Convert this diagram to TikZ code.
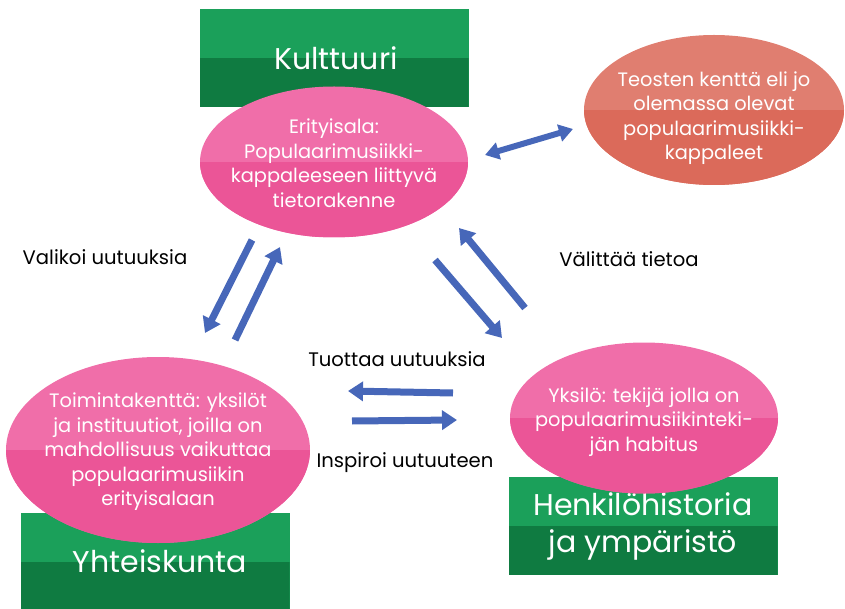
\documentclass[tikz,border=0pt]{standalone}
\usepackage{fontspec}
\setmainfont{Poppins}
\usetikzlibrary{arrows.meta,shapes.geometric}
\definecolor{pinkT}{HTML}{F06EA9}
\definecolor{pinkB}{HTML}{EB5597}
\definecolor{greenT}{HTML}{1BA05A}
\definecolor{greenB}{HTML}{0F7B41}
\definecolor{orangeT}{HTML}{E07E70}
\definecolor{orangeB}{HTML}{DB6A5A}
\definecolor{arrowblue}{HTML}{4767B9}
\tikzset{
  greenbox/.style={rectangle, minimum width=269, minimum height=98, inner sep=0,
    fill=greenT, text=white, align=center, font=\fontsize{30}{37}\selectfont,
    path picture={\fill[greenB] (path picture bounding box.west) rectangle (path picture bounding box.south east);}},
  pinkell/.style={ellipse, inner sep=0, fill=pinkT,
    path picture={\fill[pinkB] (path picture bounding box.west) rectangle (path picture bounding box.south east);}},
  orangeell/.style={ellipse, inner sep=0, fill=orangeT,
    path picture={\fill[orangeB] (path picture bounding box.west) rectangle (path picture bounding box.south east);}},
  elltext/.style={text=white, align=center, font=\fontsize{19.4}{24.5}\selectfont, inner sep=0},
  lbl/.style={text=black, font=\fontsize{19.6}{22}\selectfont, inner sep=0},
  barrow/.style={draw=arrowblue, line width=7pt, -{Triangle[width=19pt,length=15pt]}},
  dbarrow/.style={draw=arrowblue, line width=6pt, {Triangle[width=17pt,length=14pt]}-{Triangle[width=17pt,length=14pt]}}
}
\begin{document}
\begin{tikzpicture}[x=1pt,y=-1pt]
\useasboundingbox (0,0) rectangle (845,609);
% green boxes
\node[greenbox] (kult) at (334,58) {\hspace*{4pt}Kulttuuri};
\node[greenbox, minimum height=97] (yht) at (155,561.5) {\hspace*{10pt}Yhteiskunta};
\node[greenbox] (henk) at (643,526) {Henkilöhistoria\\ja ympäristö};
% ellipses
\node[pinkell, minimum width=268, minimum height=151] (erit) at (334,162) {};
\node[orangeell, minimum width=260, minimum height=150] (teos) at (714,110) {};
\node[pinkell, minimum width=304, minimum height=186] (toim) at (158,450) {};
\node[pinkell, minimum width=268, minimum height=151] (yks) at (644,418) {};
% ellipse texts
\node[elltext] (eritT) at (334,163) {Erityisala:\\Populaarimusiikki-\\kappaleeseen liittyvä\\tietorakenne};
\node[elltext] (teosT) at (714,118) {Teosten kenttä eli jo\\olemassa olevat\\populaarimusiikki-\\kappaleet};
\node[elltext] (toimT) at (158,452) {Toimintakenttä: yksilöt\\ja instituutiot, joilla on\\mahdollisuus vaikuttaa\\populaarimusiikin\\erityisalaan};
\node[elltext] (yksT) at (644,422) {Yksilö: tekijä jolla on\\populaarimusiikinteki-\\jän habitus};
% labels
\node[lbl] (l1) at (105,257) {Valikoi uutuuksia};
\node[lbl] (l2) at (629,259) {Välittää tietoa};
\node[lbl] (l3) at (397,359) {Tuottaa uutuuksia};
\node[lbl] (l4) at (405,463) {Inspiroi uutuuteen};
% arrow endpoints
\coordinate (a1s) at (252,240); \coordinate (a1e) at (205,333);
\coordinate (a2s) at (235,340); \coordinate (a2e) at (280,247);
\coordinate (a3s) at (435,260); \coordinate (a3e) at (502,338);
\coordinate (a4s) at (525,308); \coordinate (a4e) at (459,228);
\coordinate (a5s) at (453,393); \coordinate (a5e) at (348,391);
\coordinate (a6s) at (352,421); \coordinate (a6e) at (457,420);
\coordinate (d1) at (485,155); \coordinate (d2) at (573,129);
\draw[barrow] (a1s) -- (a1e);
\draw[barrow] (a2s) -- (a2e);
\draw[barrow] (a3s) -- (a3e);
\draw[barrow] (a4s) -- (a4e);
\draw[barrow] (a5s) -- (a5e);
\draw[barrow] (a6s) -- (a6e);
\draw[dbarrow] (d1) -- (d2);
\end{tikzpicture}
\end{document}
